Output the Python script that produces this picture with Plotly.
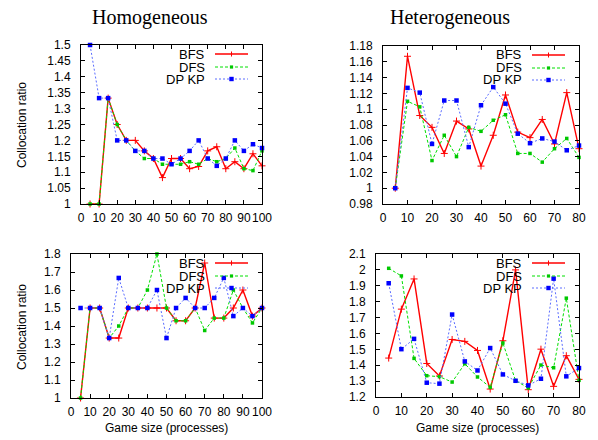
import plotly.graph_objects as go

# The page body has an 8px margin, so the figure is drawn 8px in from the window corner.
OFF = 8
W, H = 598 - OFF, 440 - OFF

# ---------------- data ----------------
x_homo = [5, 10, 15, 20, 25, 30, 35, 40, 45, 50, 55, 60, 65, 70, 75, 80, 85, 90, 95, 100]
x_het = [5, 10, 15, 20, 25, 30, 35, 40, 45, 50, 55, 60, 65, 70, 75, 80]

# Top-left: Homogeneous
tl_bfs = [1.0, 1.0, 1.333, 1.25, 1.2, 1.2, 1.167, 1.143, 1.083, 1.143, 1.143, 1.111, 1.118, 1.167, 1.18, 1.111, 1.133, 1.111, 1.158, 1.12]
tl_dfs = [1.0, 1.0, 1.333, 1.25, 1.2, 1.167, 1.143, 1.143, 1.125, 1.125, 1.125, 1.133, 1.125, 1.143, 1.133, 1.143, 1.176, 1.111, 1.105, 1.167]
tl_dp = [1.5, 1.333, 1.333, 1.2, 1.2, 1.167, 1.167, 1.143, 1.143, 1.125, 1.143, 1.167, 1.2, 1.143, 1.12, 1.143, 1.2, 1.167, 1.188, 1.176]

# Top-right: Heterogeneous
tr_bfs = [1.0, 1.167, 1.092, 1.077, 1.044, 1.085, 1.075, 1.028, 1.067, 1.118, 1.071, 1.064, 1.087, 1.056, 1.121, 1.05]
tr_dfs = [1.0, 1.11, 1.103, 1.035, 1.067, 1.04, 1.077, 1.072, 1.086, 1.093, 1.044, 1.044, 1.033, 1.05, 1.063, 1.039]
tr_dp = [1.0, 1.127, 1.121, 1.056, 1.111, 1.111, 1.052, 1.105, 1.128, 1.107, 1.069, 1.057, 1.063, 1.059, 1.048, 1.054]

# Bottom-left: Homogeneous
bl_bfs = [1.0, 1.5, 1.5, 1.333, 1.333, 1.5, 1.5, 1.5, 1.5, 1.5, 1.429, 1.429, 1.5, 1.75, 1.444, 1.444, 1.5, 1.6, 1.455, 1.5]
bl_dfs = [1.0, 1.5, 1.5, 1.333, 1.4, 1.5, 1.5, 1.6, 1.8, 1.5, 1.429, 1.429, 1.5, 1.375, 1.444, 1.444, 1.6, 1.5, 1.417, 1.5]
bl_dp = [1.5, 1.5, 1.5, 1.333, 1.667, 1.5, 1.5, 1.5, 1.6, 1.333, 1.5, 1.556, 1.5, 1.5, 1.556, 1.667, 1.455, 1.5, 1.455, 1.5]

# Bottom-right: Heterogeneous
br_bfs = [1.445, 1.753, 1.943, 1.411, 1.332, 1.562, 1.55, 1.493, 1.25, 1.554, 2.0, 1.246, 1.501, 1.267, 1.46, 1.311]
br_dfs = [2.01, 1.962, 1.443, 1.334, 1.328, 1.294, 1.409, 1.326, 1.261, 1.54, 1.303, 1.257, 1.401, 1.384, 1.822, 1.305]
br_dp = [1.916, 1.501, 1.566, 1.29, 1.284, 1.719, 1.424, 1.367, 1.508, 1.342, 1.302, 1.273, 1.315, 1.945, 1.33, 1.382]

series_names = ["BFS", "DFS", "DP KP"]

# tick labels
xt_homo = [0, 10, 20, 30, 40, 50, 60, 70, 80, 90, 100]
xt_het = [0, 10, 20, 30, 40, 50, 60, 70, 80]
yt_tl = [1, 1.05, 1.1, 1.15, 1.2, 1.25, 1.3, 1.35, 1.4, 1.45, 1.5]
yt_tr = [0.98, 1, 1.02, 1.04, 1.06, 1.08, 1.1, 1.12, 1.14, 1.16, 1.18]
yt_bl = [1, 1.1, 1.2, 1.3, 1.4, 1.5, 1.6, 1.7, 1.8]
yt_br = [1.2, 1.3, 1.4, 1.5, 1.6, 1.7, 1.8, 1.9, 2, 2.1]

titles = ["Homogeneous", "Heterogeneous"]
ytitle = "Collocation ratio"
xtitle = "Game size (processes)"

# ---------------- styles ----------------
styles = [
    dict(line=dict(color="#ff0000", width=1.4, dash="solid"),
         marker=dict(symbol="cross-thin", size=5, color="#ff0000", line=dict(color="#ff0000", width=1))),
    dict(line=dict(color="#00e000", width=1, dash="3px,2px"),
         marker=dict(symbol="square", size=3.5, color="#00c800", line=dict(width=0))),
    dict(line=dict(color="#5a6cff", width=1, dash="2px,2px"),
         marker=dict(symbol="square", size=4.5, color="#0000ff", line=dict(width=0))),
]

SANS = "Liberation Sans, Arial, sans-serif"
SERIF = "Liberation Serif, Times New Roman, serif"


def px_x(p):
    # p: pixel in the reference window
    return (p - OFF) / W


def px_y(p):
    return 1 - (p - OFF) / H


# panel geometry (reference pixels): left, right, top, bottom
panels = [
    dict(l=81, r=262, t=45, b=204, x=x_homo, ys=[tl_bfs, tl_dfs, tl_dp], xr=[0, 100], yr=[1, 1.5], xt=xt_homo, yt=yt_tl),
    dict(l=383, r=579, t=46, b=204, x=x_het, ys=[tr_bfs, tr_dfs, tr_dp], xr=[0, 80], yr=[0.98, 1.18], xt=xt_het, yt=yt_tr),
    dict(l=71, r=262, t=254, b=398, x=x_homo, ys=[bl_bfs, bl_dfs, bl_dp], xr=[0, 100], yr=[1, 1.8], xt=xt_homo, yt=yt_bl),
    dict(l=376, r=579, t=254, b=397, x=x_het, ys=[br_bfs, br_dfs, br_dp], xr=[0, 80], yr=[1.2, 2.1], xt=xt_het, yt=yt_br),
]

fig = go.Figure()
layout = dict(
    width=W, height=H, margin=dict(l=0, r=0, t=0, b=0, autoexpand=False),
    paper_bgcolor="white", plot_bgcolor="white", showlegend=False,
    font=dict(family=SANS, size=12, color="black"),
)
shapes = []
annotations = []


def fmt(v):
    return ("%.2f" % v).rstrip("0").rstrip(".")


for i, p in enumerate(panels):
    k = "" if i == 0 else str(i + 1)
    xa, ya = "x" + k, "y" + k
    for j in range(3):
        fig.add_trace(go.Scatter(x=p["x"], y=p["ys"][j], mode="lines+markers", name=series_names[j],
                                 xaxis=xa, yaxis=ya, line=styles[j]["line"], marker=styles[j]["marker"],
                                 cliponaxis=False))
    common = dict(showline=True, linecolor="black", linewidth=1, mirror="ticks", ticks="inside",
                  ticklen=4, tickcolor="black", showgrid=False, zeroline=False, automargin=False,
                  tickangle=0, tickfont=dict(size=12, color="black", family=SANS))
    layout["xaxis" + k] = dict(common, domain=[px_x(p["l"]), px_x(p["r"])], range=p["xr"], anchor=ya,
                               tickvals=p["xt"], ticktext=[str(v) for v in p["xt"]], ticklabelstandoff=3)
    layout["yaxis" + k] = dict(common, domain=[px_y(p["b"]), px_y(p["t"])], range=p["yr"], anchor=xa,
                               tickvals=p["yt"], ticktext=[fmt(v) for v in p["yt"]], ticklabelstandoff=7)
    # custom gnuplot-like legend (text, then sample line with marker)
    rows = [p["t"] + 9, p["t"] + 22, p["t"] + 34]
    for j in range(3):
        yy = px_y(rows[j])
        annotations.append(dict(x=px_x(p["r"] - 56), y=yy, xref="paper", yref="paper", text=series_names[j],
                                showarrow=False, xanchor="right", yanchor="middle", borderpad=0,
                                font=dict(size=13, color="black", family=SANS)))
        shapes.append(dict(type="line", xref="paper", yref="paper", x0=px_x(p["r"] - 47), x1=px_x(p["r"] - 14),
                           y0=yy, y1=yy, line=styles[j]["line"]))
        cx = px_x(p["r"] - 30.5)
        if j == 0:
            shapes.append(dict(type="line", xref="paper", yref="paper", x0=cx, x1=cx, y0=yy - 2.5 / H, y1=yy + 2.5 / H,
                               line=dict(color="#ff0000", width=1)))
        else:
            s = 1.6 if j == 1 else 2.2
            shapes.append(dict(type="rect", xref="paper", yref="paper", x0=cx - s / W, x1=cx + s / W,
                               y0=yy - s / H, y1=yy + s / H, fillcolor=styles[j]["marker"]["color"],
                               line=dict(width=0)))


def add_text(x, y, text, size, family=SANS, angle=0):
    annotations.append(dict(x=px_x(x), y=px_y(y), xref="paper", yref="paper", text=text, showarrow=False,
                            xanchor="center", yanchor="middle", textangle=angle,
                            font=dict(family=family, size=size, color="black")))


add_text(150, 17, titles[0], 20, SERIF)
add_text(450, 17, titles[1], 20, SERIF)
add_text(22, 125, ytitle, 12, angle=-90)
add_text(22, 327, ytitle, 12, angle=-90)
add_text(166, 428, xtitle, 12)
add_text(477, 428, xtitle, 12)

layout["shapes"] = shapes
layout["annotations"] = annotations
fig.update_layout(**layout)
fig.write_html("out.html")
